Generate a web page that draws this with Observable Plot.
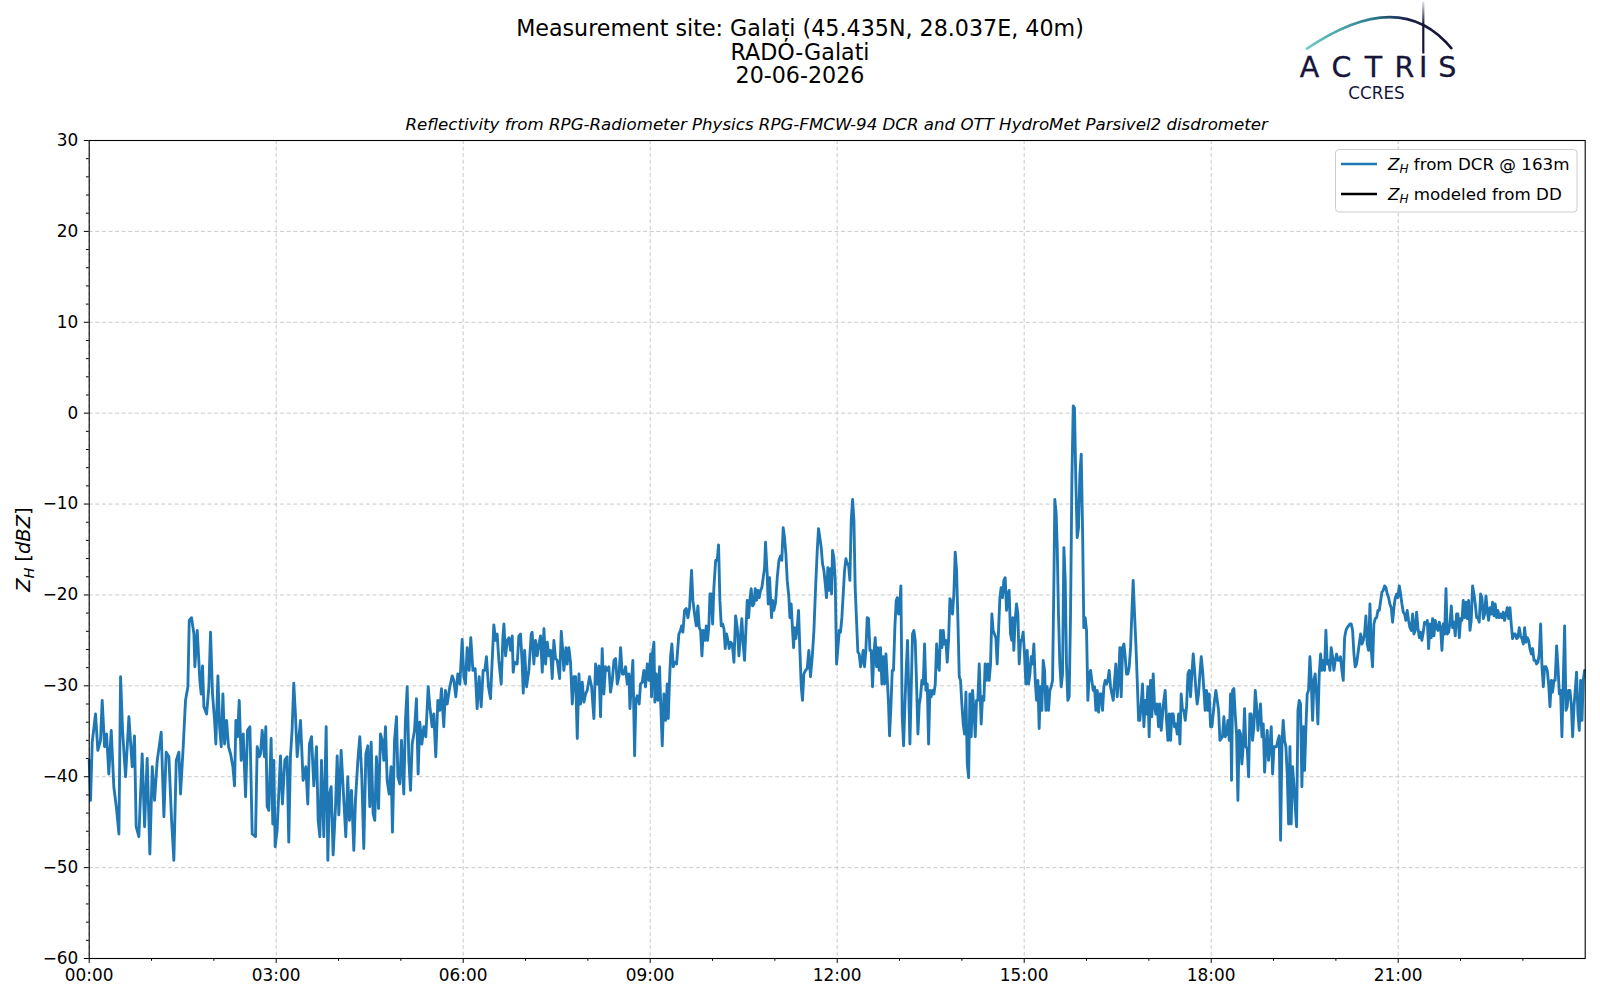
<!DOCTYPE html>
<html><head><meta charset="utf-8">
<script src="https://cdn.jsdelivr.net/npm/d3@7"></script>
<script src="https://cdn.jsdelivr.net/npm/@observablehq/plot@0.6"></script>
<style>
body{margin:0;background:#fff;}
#wrap{position:relative;width:1600px;height:1000px;overflow:hidden;background:#fff;font-family:"DejaVu Sans",sans-serif;}
#wrap > svg{position:absolute;left:0;top:0;}
#overlay{pointer-events:none;}
</style></head><body><div id="wrap"></div>
<script>
// time of day in minutes since 00:00 UTC
const minutes = [
0,1.3,2.9,6.1,8.3,10.9,12.5,14.8,16.7,18.9,21.2,23.7,26.3,28.6,30.2,32.1,35.0,38.2,41.4,43.6,45.2,47.8,51.0,53.3,55.8,58.4,60.7,62.9,65.5,69.3,71.9,74.1,76.7,79.3,81.5,83.8,86.3,87.9,90.5,92.7,95.0,96.3,98.5,100.8,101.7,104.0,106.5,107.8,109.1,110.4,113.0,115.2,116.8,118.7,120.7,121.9,123.9,125.5,127.1,128.7,130.3,132.2,134.1,136.1,138.3,139.9,141.2,142.8,144.4,146.3,148.3,150.5,152.4,154.7,156.9,160.1,161.7,163.7,
164.9,166.5,168.7,170.0,171.3,172.9,175.1,176.7,177.7,179.0,180.9,184.1,186.0,188.3,190.5,192.1,193.7,195.3,196.9,198.5,200.2,203.4,205.9,208.5,210.4,212.0,214.0,216.2,218.8,220.4,222.0,223.6,225.8,228.1,229.7,231.3,232.9,234.8,237.1,238.7,240.3,242.5,245.1,247.0,248.9,250.5,252.5,254.7,256.3,258.6,260.5,262.4,264.3,266.3,268.2,270.1,271.4,273.3,274.9,276.5,278.5,280.4,282.0,283.6,285.2,286.8,288.7,290.6,291.9,293.9,295.8,297.1,299.0,300.6,302.8,304.4,306.1,307.7,309.3,310.9,313.1,315.0,316.6,318.2,320.2,322.1,324.0,326.3,327.9,330.1,331.7,333.6,335.6,337.5,339.1,341.3,342.9,344.6,347.1,349.4,351.0,352.9,354.8,356.8,359.0,360.6,362.2,363.8,365.7,367.3,369.3,371.5,373.4,375.4,377.3,379.2,380.8,382.4,384.3,386.3,387.9,389.5,391.1,392.7,394.3,
396.6,398.2,399.2,400.8,402.4,404.0,405.6,407.2,408.1,409.4,412.0,413.6,415.2,416.8,417.8,419.1,421.0,423.2,425.5,426.4,428.0,429.6,431.3,432.9,434.5,436.1,437.7,439.3,440.9,442.5,444.1,445.7,447.3,448.9,450.5,452.8,454.4,455.6,456.9,458.9,460.1,461.7,463.3,465.0,466.6,468.2,469.8,471.4,473.0,474.6,476.2,477.8,479.4,481.6,483.6,485.8,487.4,489.0,490.6,492.2,493.8,495.4,497.0,498.6,500.2,501.8,503.5,505.1,506.7,508.3,509.9,511.5,513.1,514.7,516.3,517.9,519.5,520.5,521.7,523.3,525.0,526.2,527.5,529.4,530.7,532.3,533.9,535.5,537.2,538.8,540.4,541.3,542.3,543.6,544.5,545.8,547.4,549.0,550.0,551.6,553.2,554.8,556.4,557.4,558.6,559.6,560.9,562.2,563.5,565.4,567.6,569.2,570.2,571.5,573.1,574.7,576.3,577.9,579.8,581.1,582.7,584.3,585.9,587.2,588.5,589.8,591.1,592.7,594.0,595.2,596.5,597.5,598.8,600.1,601.3,603.0,604.5,605.8,607.1,608.4,609.7,611.0,612.2,613.5,614.8,616.1,617.4,619.0,620.6,622.2,623.8,625.4,
628.2,629.5,630.8,632.1,633.4,634.7,635.9,637.2,638.5,639.8,641.1,642.4,643.6,644.9,646.2,647.5,648.8,650.1,651.0,652.6,653.6,654.9,655.8,656.8,657.8,659.0,660.7,662.3,663.9,665.5,666.7,668.0,669.3,670.6,671.9,673.5,674.5,675.7,676.7,678.0,678.9,680.2,681.5,682.8,684.1,685.4,686.6,687.9,689.5,691.1,692.7,694.3,696.0,697.6,699.2,700.8,702.0,703.3,704.6,705.9,707.2,708.5,709.7,711.0,712.3,713.6,714.6,715.5,716.8,718.1,719.4,720.7,722.0,723.2,724.5,725.8,727.1,728.4,729.6,730.9,732.2,733.5,734.8,736.1,737.3,738.6,739.9,741.2,742.5,743.8,745.0,746.3,747.6,748.9,750.2,751.5,752.7,754.0,755.3,756.6,757.9,759.2,760.4,761.7,763.0,764.3,765.6,766.9,768.2,769.4,770.4,771.7,773.0,774.2,775.5,776.8,777.8,779.1,780.3,781.3,782.6,783.9,785.2,786.4,787.7,789.0,790.0,791.3,792.5,793.8,795.1,796.4,797.7,799.0,800.2,801.5,802.8,804.1,805.4,806.7,808.0,809.2,810.5,811.8,813.1,814.4,815.7,816.9,818.2,819.5,820.8,822.1,823.3,824.6,825.9,827.2,828.5,829.8,831.0,832.3,833.6,834.9,836.2,837.5,838.7,840.0,841.3,842.6,843.9,845.2,846.5,847.7,849.0,850.3,851.6,852.9,854.1,855.4,856.7,
858.6,859.9,861.2,862.4,863.7,865.0,866.3,867.6,868.9,870.1,871.4,872.7,874.0,875.3,876.6,877.8,879.1,880.4,881.7,883.0,884.3,885.5,886.8,888.1,889.1,890.0,891.3,892.6,893.9,895.2,896.5,897.7,899.0,900.3,901.6,902.9,904.2,905.5,906.7,908.0,909.3,910.6,911.9,913.2,914.4,915.7,917.0,918.3,919.6,920.9,922.1,923.4,924.7,926.0,927.3,928.6,929.5,930.8,931.8,933.0,934.3,935.6,936.9,938.2,939.5,940.7,942.0,943.3,944.6,945.9,947.2,948.4,949.7,951.0,952.3,953.6,954.9,956.2,957.4,958.7,960.0,961.3,962.6,963.9,965.1,966.4,967.7,969.0,970.3,971.6,972.8,974.1,975.4,976.7,978.0,979.3,980.5,981.8,983.1,984.4,985.7,987.0,988.2,989.5,990.8,992.1,993.4,994.7,996.0,997.2,998.5,999.8,1001.1,1002.4,1003.6,1004.9,1006.2,1007.5,1008.8,1010.1,1011.3,1012.6,1013.9,1015.2,1016.5,1017.8,1019.0,1020.3,1021.6,1022.9,1024.2,1025.5,1026.7,1028.0,1029.3,1030.6,1031.9,1033.2,1034.4,1035.7,1037.0,1038.3,1039.6,1040.9,1042.1,1043.4,1044.7,1046.0,1047.3,1048.6,1049.9,1051.1,1052.4,1053.7,1055.0,1056.3,1057.6,1058.8,1060.1,1061.4,1062.7,1064.0,1065.3,1066.5,1067.8,1069.1,1070.4,1071.7,1073.0,1074.2,1075.5,1076.8,1078.1,1079.4,1080.7,1081.9,1083.2,1084.5,1085.8,1087.1,1088.4,
1090.9,1092.2,1093.5,1094.8,1096.1,1097.4,1098.6,1099.6,1100.6,1101.8,1103.1,1104.4,1105.7,1107.0,1108.3,1109.5,1110.8,1112.1,1113.4,1114.7,1116.0,1117.2,1118.5,1119.8,1121.1,1122.4,1123.7,1125.0,1126.2,1127.5,1128.8,1130.1,1131.4,1132.7,1133.9,1135.2,1136.5,1137.8,1139.1,1140.4,1141.6,1142.9,1144.2,1145.5,1146.8,1148.1,1149.3,1150.6,1151.9,1153.2,1154.5,1155.8,1157.0,1158.3,1159.6,1160.9,1162.2,1163.5,1164.7,1166.0,1167.3,1168.6,1169.9,1171.2,1172.4,1173.7,1175.0,1176.3,1177.6,1178.9,1180.1,1181.4,1182.7,1184.0,1185.3,1186.6,1187.8,1189.1,1190.4,1191.7,1193.0,1194.3,1195.5,1196.8,1198.1,1199.4,1200.7,1202.0,1203.2,1204.5,1205.8,1207.1,1208.4,1209.7,1210.9,1212.2,1213.5,1214.8,1216.1,1217.4,1218.6,1219.9,1221.2,1222.5,1223.8,1225.1,1226.4,1227.6,1228.9,1230.2,1231.5,1232.8,1234.1,1235.3,1236.6,1237.9,1239.2,1240.5,1241.8,
1244.3,1245.6,1246.9,1248.2,1249.5,1250.8,1252.0,1253.3,1254.6,1255.9,1257.2,1258.5,1259.7,1261.0,1262.3,1263.6,1264.9,1266.2,1267.4,1268.7,1270.0,1271.3,1272.6,1273.9,1275.1,1276.4,1277.7,1279.0,1280.3,1281.6,1282.8,1284.1,1285.4,1286.7,1288.0,1289.3,1290.5,1291.8,1293.1,1294.4,1295.7,1297.0,1298.3,1299.5,1300.8,1302.1,1303.4,1304.7,1306.0,1307.2,1308.5,1309.8,1311.1,1312.4,1313.7,1314.9,1316.2,1317.5,1318.8,1320.1,1321.4,1322.6,1323.9,1325.2,1326.5,1327.8,1329.1,1330.3,1331.6,1332.9,1334.2,1335.5,1336.8,1338.0,1339.3,1340.6,1341.9,1343.2,1344.5,1345.7,1347.0,1348.3,1349.6,1350.9,1352.2,1353.4,1354.7,1356.0,1357.3,1358.6,1359.9,1361.1,1362.4,1363.7,1365.0,1366.3,1367.6,1368.8,1370.1,1371.4,1372.7,1374.0,1375.3,1376.5,1377.8,1379.1,1380.4,1381.7,1383.0,1384.3,1385.5,1386.8,1388.1,1389.4,1390.7,1392.0,1393.2,1394.5,1395.8,1397.1,1398.4,1399.7,1400.9,1402.2,1403.5,1404.8,1406.1,1407.4,1408.6,1409.9,1411.1,1412.5,1413.8,1415.1,
1416.3,1417.6,1418.9,1420.2,1421.5,1422.7,1424.0,1425.3,1426.6,1427.9,1429.2,1430.4,1431.7,1433.0,1434.3,1435.6,1436.9,1438.1,1439.4
];
// Z_H from DCR @ 163m, dBZ
const zhDCR = [
-38.2,-42.6,-36.2,-33.1,-37.1,-36.0,-31.6,-36.7,-35.3,-39.7,-34.9,-41.1,-43.5,-46.3,-29.0,-34.9,-40.0,-33.4,-38.9,-35.5,-45.5,-46.6,-37.5,-45.5,-38.0,-48.5,-38.9,-42.6,-38.2,-35.1,-44.4,-37.3,-37.8,-44.8,-49.2,-38.2,-37.3,-41.9,-36.7,-31.6,-30.1,-22.8,-22.5,-24.3,-27.9,-23.9,-29.4,-30.9,-27.8,-32.3,-33.1,-30.1,-24.1,-30.9,-33.8,-36.4,-28.9,-34.5,-36.7,-30.9,-36.4,-33.8,-36.7,-37.5,-38.9,-41.0,-33.8,-35.6,-31.6,-38.2,-35.3,-42.2,-34.9,-34.5,-46.3,-46.6,-36.7,-37.8,
-37.5,-34.9,-37.8,-34.5,-43.3,-43.7,-35.8,-45.2,-38.2,-47.7,-45.9,-37.7,-43.0,-38.2,-37.8,-47.2,-37.8,-34.9,-29.7,-33.1,-37.8,-33.8,-40.4,-38.9,-43.0,-36.4,-35.6,-41.0,-36.7,-44.8,-46.6,-38.2,-46.6,-34.5,-49.2,-41.9,-41.1,-48.6,-43.3,-37.7,-44.2,-37.1,-42.6,-46.6,-40.0,-44.8,-41.5,-48.1,-42.6,-38.2,-35.6,-40.0,-47.9,-37.5,-36.6,-43.3,-36.2,-44.1,-44.8,-37.8,-43.5,-35.3,-36.0,-38.2,-34.5,-40.4,-41.9,-38.9,-46.1,-36.0,-33.4,-40.0,-40.8,-36.0,-41.9,-33.8,-30.1,-38.2,-41.5,-36.4,-34.9,-31.4,-39.7,-34.0,-36.4,-34.5,-35.6,-30.1,-32.3,-34.5,-33.1,-37.8,-31.6,-32.7,-30.3,-34.5,-30.5,-32.0,-30.1,-28.9,-29.4,-31.2,-28.7,-29.8,-24.9,-29.0,-29.8,-25.8,-28.3,-24.7,-28.3,-28.1,-32.5,-29.0,-32.3,-28.3,-28.3,-26.8,-30.1,-31.4,-27.2,-23.3,-25.0,-24.3,-27.2,
-29.8,-24.7,-23.2,-26.7,-25.0,-24.7,-26.1,-24.5,-28.5,-27.4,-27.6,-24.5,-24.3,-27.6,-30.8,-26.1,-30.1,-28.3,-24.3,-24.1,-27.6,-25.0,-26.7,-25.4,-24.5,-28.5,-23.7,-27.6,-25.2,-26.7,-26.1,-29.2,-25.0,-27.0,-27.2,-29.2,-24.0,-25.8,-28.3,-25.8,-27.6,-25.8,-27.4,-32.0,-29.0,-29.0,-35.8,-28.7,-32.0,-29.6,-31.8,-30.9,-30.5,-29.0,-30.1,-33.6,-27.6,-29.8,-27.8,-33.4,-25.9,-30.9,-27.9,-28.3,-27.9,-30.7,-29.4,-27.2,-27.0,-29.8,-29.0,-25.8,-28.7,-28.7,-27.9,-29.8,-28.7,-32.5,-30.1,-27.2,-37.7,-31.6,-31.1,-32.0,-29.8,-29.6,-28.3,-30.1,-27.6,-29.4,-26.5,-31.2,-26.3,-25.2,-31.8,-28.7,-31.6,-27.9,-31.6,-36.6,-30.9,-33.8,-29.8,-33.6,-29.4,-26.8,-25.4,-27.9,-27.4,-27.6,-24.3,-23.9,-23.4,-24.1,-21.7,-21.5,-22.5,-21.4,-17.3,-20.6,-22.1,-23.4,-21.2,-23.6,-23.9,-26.7,-23.9,-25.0,-23.4,-25.0,-23.4,-19.9,-19.9,-23.2,-19.2,-16.2,-16.2,-14.5,-20.6,-23.4,-23.2,-23.7,-25.9,-24.3,-25.0,-25.9,-25.2,-25.4,-27.4,-22.3,-23.6,-26.7,
-22.6,-25.4,-27.2,-23.9,-20.6,-22.5,-20.6,-19.3,-21.2,-21.0,-19.3,-20.6,-19.5,-20.3,-19.5,-19.2,-18.1,-17.0,-14.2,-17.7,-21.0,-18.1,-20.3,-22.5,-20.6,-21.7,-20.8,-18.1,-16.2,-15.7,-16.2,-12.6,-13.7,-15.5,-18.4,-20.3,-22.5,-21.0,-23.2,-25.8,-23.6,-24.8,-23.6,-21.7,-26.1,-30.1,-31.6,-28.7,-28.3,-28.1,-26.1,-29.0,-26.8,-23.9,-19.2,-15.1,-12.7,-13.7,-14.8,-16.6,-17.3,-18.8,-20.3,-17.0,-19.5,-17.1,-19.9,-15.1,-15.9,-18.4,-27.6,-25.8,-23.9,-24.1,-22.5,-19.9,-17.3,-16.0,-16.6,-16.6,-18.4,-11.8,-9.5,-11.8,-19.2,-22.8,-26.3,-26.5,-27.9,-27.2,-26.1,-27.9,-26.1,-22.5,-22.6,-26.1,-26.1,-30.1,-26.5,-24.7,-27.9,-25.8,-28.3,-25.8,-29.8,-26.8,-29.8,-26.5,-29.2,-32.0,-35.5,-32.3,-28.3,-28.3,-23.6,-20.6,-20.3,-22.1,-21.0,-19.0,-33.4,-36.6,-32.0,-28.3,-25.0,-31.2,-36.4,-30.1,-24.3,-23.9,-25.0,-29.8,-35.3,-32.0,-31.2,-29.4,-29.8,-25.4,-30.5,-29.8,-36.4,-30.5,-31.2,-30.5,-30.9,-29.8,-25.4,-27.6,-28.3,-23.9,-25.8,-23.9,-25.4,-25.0,-27.4,-25.0,-20.4,-20.8,-22.1,-19.9,-15.3,-17.3,-22.8,-29.0,-29.4,-32.0,-34.2,-35.3,-30.7,-38.6,-40.1,-30.9,-35.6,-30.5,-32.7,-35.6,-31.6,-31.6,-27.6,
-34.2,-31.2,-31.6,-27.6,-29.4,-27.6,-29.4,-27.6,-22.1,-23.9,-24.3,-24.7,-27.6,-23.9,-20.3,-19.2,-20.3,-18.4,-18.1,-21.7,-19.9,-19.5,-24.3,-25.0,-22.5,-26.1,-22.8,-21.0,-22.1,-27.6,-25.0,-25.0,-24.1,-26.5,-29.8,-26.1,-29.8,-28.7,-26.8,-27.6,-25.4,-29.4,-31.6,-29.4,-34.7,-30.1,-32.7,-27.2,-28.3,-32.7,-30.1,-32.7,-30.5,-30.1,-29.4,-18.4,-9.5,-11.1,-14.8,-22.1,-27.6,-30.1,-28.7,-14.8,-18.4,-27.6,-31.6,-31.2,-22.1,-7.4,0.8,0.6,-7.4,-13.7,-12.6,-6.7,-4.5,-12.9,-23.6,-22.5,-23.9,-31.6,-28.7,-28.3,-29.4,-30.5,-30.1,-32.7,-30.5,-32.9,-30.9,-30.9,-32.7,-30.1,-29.4,-29.8,-29.4,-28.3,-30.1,-30.9,-31.6,-29.4,-27.6,-31.2,-29.4,-25.8,-31.2,-25.8,-25.4,-26.8,-28.7,-28.7,-27.9,-25.8,-22.1,-18.4,-22.1,-25.4,-29.4,-33.8,-33.8,-32.0,-29.8,-34.5,-31.6,-33.1,-30.1,-35.6,-29.4,-33.4,-28.7,-32.3,-33.1,-32.0,-34.5,-32.0,-34.9,-33.1,-31.6,-30.5,-33.8,-36.0,-33.1,-36.0,-33.1,-33.1,-34.5,-34.2,-35.3,-33.1,-36.4,-30.9,-32.7,-32.7,-33.8,-32.3,-28.7,-28.3,-31.2,-28.7,-26.5,-28.3,-30.5,-32.0,-30.9,-28.7,-26.8,-28.3,-30.5,-32.7,-30.5,-32.7,-30.9,-34.5,-34.5,-33.1,-31.6,-30.5,-31.6,-32.7,-36.0,
-35.6,-33.4,-35.6,-35.3,-33.8,-36.0,-30.9,-40.4,-30.5,-30.3,-33.1,-35.3,-42.6,-34.9,-35.3,-38.6,-36.7,-32.5,-36.7,-36.9,-40.0,-33.1,-33.1,-36.0,-34.5,-30.5,-32.3,-34.9,-33.4,-32.0,-35.6,-34.2,-39.5,-36.7,-34.9,-38.2,-36.7,-34.5,-39.7,-36.7,-36.7,-36.7,-36.0,-35.5,-47.0,-36.4,-33.8,-36.0,-36.7,-39.7,-45.2,-36.7,-45.2,-38.9,-40.8,-43.3,-45.5,-32.7,-31.6,-32.0,-41.1,-34.5,-39.3,-34.5,-30.9,-30.5,-26.8,-29.4,-33.8,-29.4,-28.7,-30.9,-34.2,-28.7,-26.5,-28.3,-27.2,-28.3,-23.9,-27.6,-27.2,-28.3,-25.8,-26.8,-28.3,-27.2,-26.5,-27.2,-27.2,-26.8,-28.3,-29.4,-24.7,-23.9,-23.6,-23.4,-23.2,-23.2,-23.9,-26.5,-27.9,-27.6,-26.5,-25.4,-24.3,-25.4,-25.0,-24.3,-22.3,-25.4,-26.1,-21.0,-26.1,-27.9,-23.2,-22.6,-22.5,-21.7,-21.7,
-19.7,-19.5,-19.0,-19.2,-19.9,-20.3,-21.0,-21.4,-23.0,-21.4,-20.3,-19.9,-20.3,-19.0,-19.9,-21.0,-21.9,-22.1,-22.8,-21.7,-22.8,-23.6,-23.9,-22.1,-24.3,-23.9,-21.9,-23.6,-24.7,-24.1,-25.0,-24.1,-23.0,-23.2,-22.8,-25.9,-23.2,-24.7,-22.6,-24.5,-22.8,-23.6,-23.9,-23.0,-23.6,-26.1,-23.2,-24.3,-19.3,-24.3,-24.1,-23.2,-21.2,-23.6,-23.0,-24.5,-22.1,-22.1,-24.7,-22.6,-22.8,-20.6,-22.5,-20.8,-22.6,-20.6,-23.9,-22.8,-19.0,-19.9,-21.0,-22.5,-22.5,-23.0,-19.9,-20.3,-22.6,-22.1,-20.1,-21.7,-22.8,-21.4,-22.1,-20.8,-22.3,-21.0,-22.5,-21.7,-22.5,-22.1,-22.5,-21.9,-22.8,-22.1,-21.4,-22.6,-21.4,-23.2,-24.8,-24.3,-24.3,-24.8,-24.7,-23.6,-24.5,-24.8,-25.4,-23.6,-25.2,-24.7,-25.0,-25.9,-26.5,-25.9,-27.2,-27.2,-27.6,-27.4,-26.5,-23.2,-27.9,-30.1,-27.9,-27.9,-28.3,-29.8,-32.3,-29.4,-30.7,-29.4,-29.4,-25.6,-27.9,-30.9,
-30.5,-35.6,-29.4,-23.4,-32.7,-32.3,-30.5,-30.5,-32.0,-35.6,-32.3,-30.5,-28.5,-33.1,-34.9,-29.4,-33.8,-29.4,-28.3
];
// axis ticks
const xMajor = [0, 180, 360, 540, 720, 900, 1080, 1260];
const xMinor = [60, 120, 240, 300, 420, 480, 600, 660, 780, 840, 960, 1020, 1140, 1200, 1320, 1380];
const yMajor = [-60, -50, -40, -30, -20, -10, 0, 10, 20, 30];
const yMinor = [-58,-56,-54,-52,-48,-46,-44,-42,-38,-36,-34,-32,-28,-26,-24,-22,-18,-16,-14,-12,-8,-6,-4,-2,2,4,6,8,12,14,16,18,22,24,26,28];

const titleLines = ["Measurement site: Galați (45.435N, 28.037E, 40m)", "RADO-Galati", "20-06-2026"];
const subtitle = "Reflectivity from RPG-Radiometer Physics RPG-FMCW-94 DCR and OTT HydroMet Parsivel2 disdrometer";
const legendItems = [
  {label: " from DCR @ 163m", color: "#1f77b4"},
  {label: " modeled from DD", color: "#000000"}
];

const rows = minutes.map((t, i) => ({t, v: zhDCR[i]}));
const fmtHM = m => String(Math.floor(m / 60)).padStart(2, "0") + ":" + String(m % 60).padStart(2, "0");
const fmtY = d => d < 0 ? "\u2212" + Math.abs(d) : String(d);
const gridStyle = {stroke: "#c4c4c4", strokeWidth: 0.9, strokeDasharray: "4,2.6", strokeOpacity: 1};

const chart = Plot.plot({
  width: 1600, height: 1000,
  marginLeft: 88.7, marginRight: 15.3, marginTop: 140, marginBottom: 42,
  style: {fontFamily: "'DejaVu Sans', sans-serif", fontSize: "16.9px", color: "black", background: "transparent"},
  x: {type: "linear", domain: [0, 1440]},
  y: {type: "linear", domain: [-60, 30]},
  marks: [
    Plot.gridX(xMajor, gridStyle),
    Plot.gridY(yMajor, gridStyle),
    Plot.line(rows, {x: "t", y: "v", stroke: "#1f77b4", strokeWidth: 2.85, strokeLinejoin: "round", strokeLinecap: "round"}),
    Plot.frame({stroke: "black", strokeWidth: 1.1}),
    Plot.axisX(xMinor, {tickSize: 2.8, tickFormat: () => "", label: null, stroke: "black"}),
    Plot.axisX(xMajor, {tickSize: 4.9, tickPadding: 6, tickFormat: fmtHM, label: null, stroke: "black", fill: "black"}),
    Plot.axisY(yMinor, {tickSize: 2.8, tickFormat: () => "", label: null, stroke: "black"}),
    Plot.axisY(yMajor, {tickSize: 4.9, tickPadding: 6, tickFormat: fmtY, label: null, stroke: "black", fill: "black"})
  ]
});
const wrap = document.getElementById("wrap");
wrap.appendChild(chart);

// overlay: titles, logo, legend, y label
const NS = "http://www.w3.org/2000/svg";
const ov = document.createElementNS(NS, "svg");
ov.setAttribute("id", "overlay");
ov.setAttribute("width", 1600); ov.setAttribute("height", 1000);
ov.setAttribute("font-family", "'DejaVu Sans', sans-serif");
let html = `<defs>
<linearGradient id="arcg" x1="1306" y1="0" x2="1452" y2="0" gradientUnits="userSpaceOnUse">
<stop offset="0" stop-color="#72cbc6"/><stop offset="0.45" stop-color="#2b7d91"/><stop offset="0.7" stop-color="#1c1d46"/><stop offset="1" stop-color="#141437"/></linearGradient>
<linearGradient id="vg" x1="0" y1="0" x2="0" y2="54" gradientUnits="userSpaceOnUse">
<stop offset="0" stop-color="#141437" stop-opacity="0.05"/><stop offset="0.45" stop-color="#141437" stop-opacity="1"/></linearGradient>
</defs>`;
const baselines = [36.3, 59.7, 83];
titleLines.forEach((s, i) => {
  html += `<text x="800" y="${baselines[i]}" text-anchor="middle" font-size="22.2" fill="black">${s}</text>`;
});
html += `<text x="836.7" y="129.6" text-anchor="middle" font-size="16.65" font-style="italic" fill="black">${subtitle}</text>`;
// logo
html += `<path d="M1306,49.3 Q1400,-15 1452,49" fill="none" stroke="url(#arcg)" stroke-width="2.6"/>`;
html += `<line x1="1423.3" y1="1.5" x2="1423.3" y2="53.5" stroke="url(#vg)" stroke-width="2.2"/>`;
const logoLetters = ["A","C","T","R","I","S"];
const logoX = [1309.5, 1341.5, 1373.5, 1404.5, 1423.3, 1447.3];
logoLetters.forEach((c, i) => {
  html += `<text x="${logoX[i]}" y="77.3" text-anchor="middle" font-size="28.5" fill="#151539" stroke="#151539" stroke-width="0.3">${c}</text>`;
});
html += `<text x="1376.5" y="98.6" text-anchor="middle" font-size="16.8" fill="#151539">CCRES</text>`;
// legend
html += `<rect x="1335.5" y="149.5" width="241.5" height="62.5" rx="3.5" fill="white" fill-opacity="0.8" stroke="#cccccc" stroke-width="1"/>`;
legendItems.forEach((it, i) => {
  const y = 164 + i * 30;
  html += `<line x1="1341" y1="${y}" x2="1377" y2="${y}" stroke="${it.color}" stroke-width="2.7"/>`;
  html += `<text x="1388" y="${y + 6}" font-size="16.7" fill="black"><tspan font-style="italic">Z</tspan><tspan font-style="italic" font-size="12" dy="3.3">H</tspan><tspan dy="-3.3">${it.label}</tspan></text>`;
});
// y label
html += `<text transform="translate(30,549.5) rotate(-90)" text-anchor="middle" font-size="19.5" fill="black"><tspan font-style="italic">Z</tspan><tspan font-style="italic" font-size="14" dy="3.9">H</tspan><tspan dy="-3.9"> [</tspan><tspan font-style="italic">dBZ</tspan><tspan>]</tspan></text>`;
ov.innerHTML = html;
wrap.appendChild(ov);
</script>
</body></html>
